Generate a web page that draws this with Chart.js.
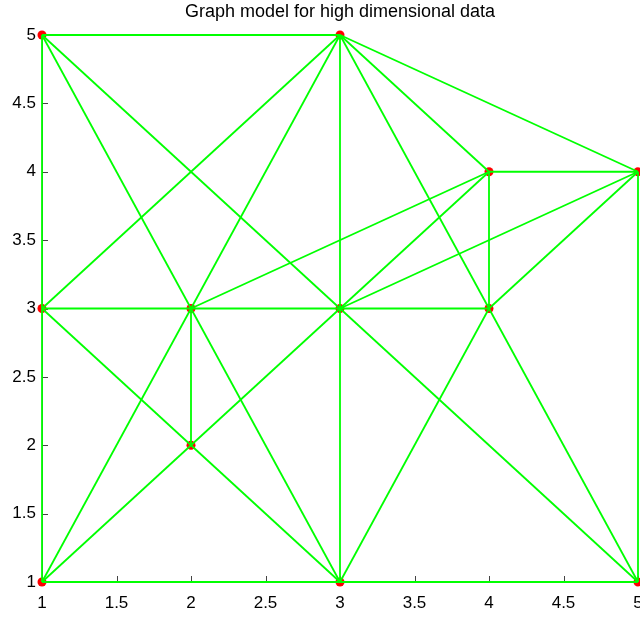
<!DOCTYPE html>
<html>
<head>
<meta charset="utf-8">
<script src="https://cdn.jsdelivr.net/npm/chart.js@4"></script>
<style>
  html, body { margin: 0; padding: 0; background: #ffffff; }
  #wrap { width: 640px; height: 617px; }
</style>
</head>
<body>
<div id="wrap"><canvas id="c" width="640" height="617"></canvas></div>
<script>
// Vertex coordinates of the graph
const nodeX = [1, 3, 4, 5, 1, 2, 3, 4, 2, 1, 3, 5];
const nodeY = [5, 5, 4, 4, 3, 3, 3, 3, 2, 1, 1, 1];

// Edges as pairs of vertex indices
const edges = [
  [0, 1], [0, 4], [0, 5], [0, 6],
  [1, 4], [1, 5], [1, 6], [1, 7], [1, 2], [1, 3],
  [2, 3], [2, 7], [2, 5], [2, 6],
  [3, 6], [3, 7], [3, 11],
  [4, 5], [4, 8], [4, 9],
  [5, 6], [5, 8], [5, 10], [5, 9],
  [6, 7], [6, 8], [6, 10], [6, 11],
  [7, 10], [7, 11],
  [8, 9], [8, 10],
  [9, 10], [10, 11]
];

// Axis tick values (shared by both axes)
const tickValues = [1, 1.5, 2, 2.5, 3, 3.5, 4, 4.5, 5];

const EDGE_COLOR = '#00ff00';
const NODE_COLOR = '#ff0000';
const FONT = "'Liberation Sans', Arial, Helvetica, sans-serif";
const TICK_SIZE = 17;

const edgeSets = edges.map(([a, b]) => ({
  type: 'scatter',
  data: [{ x: nodeX[a], y: nodeY[a] }, { x: nodeX[b], y: nodeY[b] }],
  showLine: true,
  borderColor: EDGE_COLOR,
  borderWidth: 1.8,
  pointRadius: 0,
  pointHoverRadius: 0,
  clip: false,
  order: 1
}));

const nodeSet = {
  type: 'scatter',
  data: nodeX.map((x, i) => ({ x, y: nodeY[i] })),
  showLine: false,
  pointRadius: 4.5,
  pointBackgroundColor: NODE_COLOR,
  pointBorderColor: NODE_COLOR,
  pointBorderWidth: 0,
  clip: false,
  order: 10
};

// Inward tick marks on both axes, plus the x-axis tick labels
// (drawn here so the last label may run off the right edge of the canvas)
const innerTicks = {
  id: 'innerTicks',
  beforeDatasetsDraw(chart) {
    const { ctx, chartArea: a, scales: { x, y } } = chart;
    ctx.save();
    ctx.strokeStyle = '#444444';
    ctx.lineWidth = 1;
    ctx.beginPath();
    tickValues.forEach(v => {
      const px = Math.round(x.getPixelForValue(v)) + 0.5;
      ctx.moveTo(px, a.bottom);
      ctx.lineTo(px, a.bottom - 6);
      const py = Math.round(y.getPixelForValue(v)) + 0.5;
      ctx.moveTo(a.left, py);
      ctx.lineTo(a.left + 6, py);
    });
    ctx.stroke();

    ctx.fillStyle = '#000000';
    ctx.font = TICK_SIZE + 'px ' + FONT;
    ctx.textAlign = 'center';
    ctx.textBaseline = 'alphabetic';
    tickValues.forEach(v => {
      ctx.fillText(String(v), x.getPixelForValue(v), a.bottom + 26);
    });
    ctx.restore();
  }
};

const fixedTicks = s => { s.ticks = tickValues.map(v => ({ value: v })); };

new Chart(document.getElementById('c'), {
  type: 'scatter',
  data: { datasets: [nodeSet, ...edgeSets] },
  options: {
    responsive: false,
    devicePixelRatio: 1,
    animation: false,
    events: [],
    layout: { autoPadding: false, padding: { top: 0, left: 0, bottom: 0, right: 2 } },
    plugins: {
      legend: { display: false },
      tooltip: { enabled: false },
      title: {
        display: true,
        text: 'Graph model for high dimensional data',
        fullSize: false,
        color: '#000000',
        font: { family: FONT, size: 18, weight: 'normal' },
        padding: { top: 1, bottom: 12.4 }
      }
    },
    scales: {
      x: {
        type: 'linear',
        min: 1, max: 5,
        afterBuildTicks: fixedTicks,
        grid: { display: false, drawTicks: false },
        border: { display: true, color: '#555555', width: 1 },
        ticks: { display: false },
        afterFit(s) { s.height = 35; s.paddingLeft = 0; s.paddingRight = 0; }
      },
      y: {
        type: 'linear',
        min: 1, max: 5,
        afterBuildTicks: fixedTicks,
        grid: { display: false, drawTicks: false },
        border: { display: true, color: '#555555', width: 1 },
        ticks: {
          color: '#000000',
          font: { family: FONT, size: TICK_SIZE },
          padding: 6,
          autoSkip: false,
          callback: v => String(v)
        },
        afterFit(s) { s.width = 42; s.paddingTop = 0; s.paddingBottom = 0; }
      }
    }
  },
  plugins: [innerTicks]
});
</script>
</body>
</html>
